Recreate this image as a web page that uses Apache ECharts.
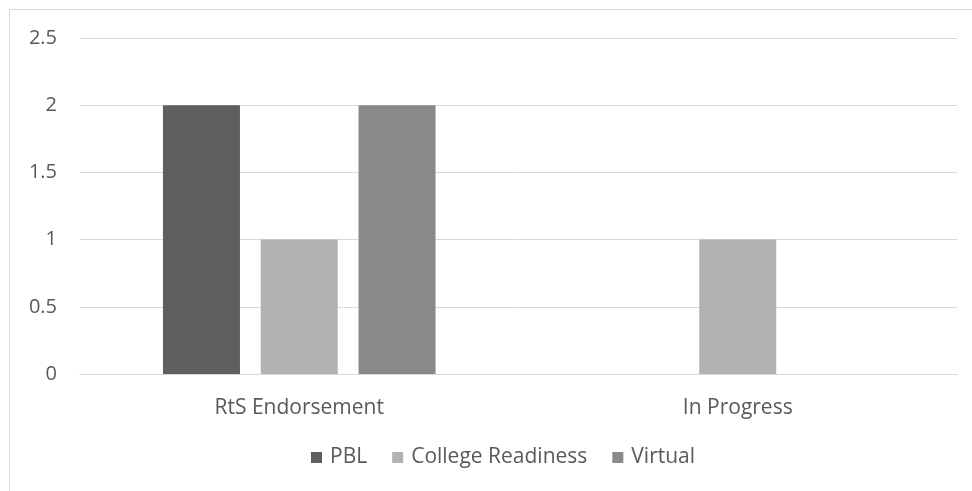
<!DOCTYPE html>
<html>
<head>
<meta charset="utf-8">
<script src="https://cdn.jsdelivr.net/npm/echarts@6/dist/echarts.min.js"></script>
<style>
  html, body { margin: 0; padding: 0; background: #fff; }
  #chart { width: 972px; height: 491px; }
</style>
</head>
<body>
<div id="chart"></div>
<script>
  let categories = ['RtS Endorsement', 'In Progress'];
  let pblData = [2, 0];
  let collegeData = [1, 1];
  let virtualData = [2, 0];
  let yTicks = [0, 0.5, 1, 1.5, 2, 2.5];

  let font = 'Open Sans, sans-serif';
  let textColor = '#595959';

  let chart = echarts.init(document.getElementById('chart'));

  chart.setOption({
    animation: false,
    textStyle: { fontFamily: font },
    graphic: [{
      type: 'rect',
      shape: { x: 9.5, y: 9.5, width: 1000, height: 1000 },
      style: { fill: 'none', stroke: '#d9d9d9', lineWidth: 1 },
      silent: true
    }],
    grid: { left: 80, right: 15, top: 38, bottom: 117 },
    legend: {
      left: 311,
      top: 447,
      padding: 0,
      itemWidth: 11,
      itemHeight: 11,
      itemGap: 25,
      icon: 'rect',
      textStyle: { color: textColor, fontSize: 21, fontFamily: font, padding: [0, 0, 0, 3] },
      data: ['PBL', 'College Readiness', 'Virtual']
    },
    xAxis: {
      type: 'category',
      data: categories,
      axisTick: { show: false },
      axisLine: { lineStyle: { color: '#d9d9d9', width: 1 } },
      axisLabel: { color: textColor, fontSize: 21, margin: 24, fontFamily: font }
    },
    yAxis: {
      type: 'value',
      min: yTicks[0],
      max: yTicks[yTicks.length - 1],
      interval: 0.5,
      axisLine: { show: false },
      axisTick: { show: false },
      splitLine: { lineStyle: { color: '#d9d9d9', width: 1 } },
      axisLabel: { color: textColor, fontSize: 20, margin: 23, fontFamily: font }
    },
    series: [
      { name: 'PBL', type: 'bar', data: pblData, barWidth: 77, barGap: '27%', itemStyle: { color: '#5f5f5f' } },
      { name: 'College Readiness', type: 'bar', data: collegeData, barWidth: 77, barGap: '27%', itemStyle: { color: '#b2b2b2' } },
      { name: 'Virtual', type: 'bar', data: virtualData, barWidth: 77, barGap: '27%', itemStyle: { color: '#898989' } }
    ]
  });
</script>
</body>
</html>
